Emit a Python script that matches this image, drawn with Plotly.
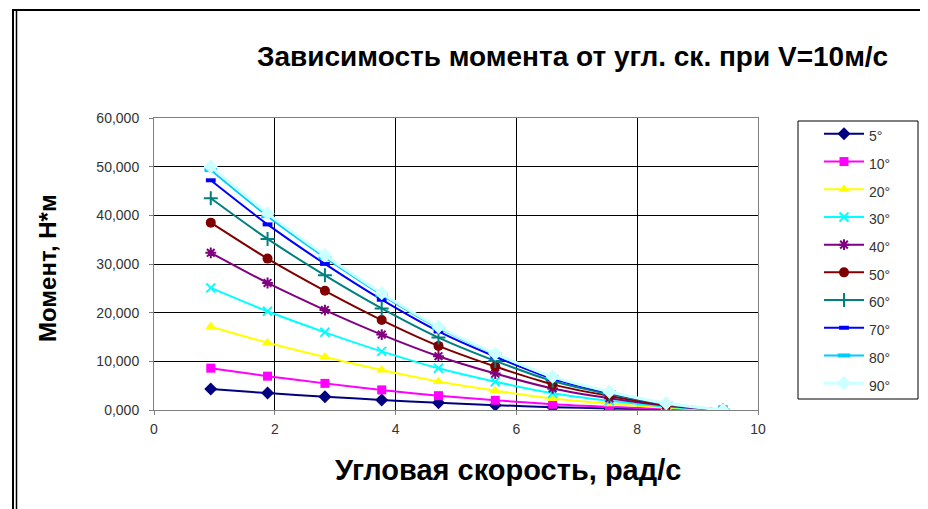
import plotly.graph_objects as go

# angular speed, rad/s
omega = [0.94, 1.88, 2.83, 3.77, 4.71, 5.65, 6.60, 7.54, 8.48, 9.42]

# torque, N*m, one list per blade angle
m_5 = [4.30, 3.47, 2.73, 2.06, 1.47, 1.00, 0.59, 0.32, 0.12, 0.0]
m_10 = [8.60, 6.95, 5.47, 4.13, 2.94, 2.00, 1.18, 0.65, 0.24, 0.0]
m_20 = [17.10, 13.82, 10.88, 8.21, 5.85, 3.97, 2.34, 1.28, 0.47, 0.0]
m_30 = [25.10, 20.28, 15.96, 12.05, 8.58, 5.82, 3.44, 1.88, 0.69, 0.0]
m_40 = [32.30, 26.10, 20.54, 15.50, 11.05, 7.49, 4.43, 2.42, 0.89, 0.0]
m_50 = [38.50, 31.11, 24.49, 18.48, 13.17, 8.93, 5.27, 2.89, 1.06, 0.0]
m_60 = [43.50, 35.15, 27.67, 20.88, 14.88, 10.09, 5.96, 3.26, 1.20, 0.0]
m_70 = [47.20, 38.14, 30.02, 22.66, 16.14, 10.95, 6.47, 3.54, 1.30, 0.0]
m_80 = [49.30, 39.83, 31.35, 23.66, 16.86, 11.44, 6.75, 3.70, 1.36, 0.0]
m_90 = [50.00, 40.40, 31.80, 24.00, 17.10, 11.60, 6.85, 3.76, 1.38, 0.0]

series_names = ["5°", "10°", "20°", "30°", "40°", "50°", "60°", "70°", "80°", "90°"]
series_values = [m_5, m_10, m_20, m_30, m_40, m_50, m_60, m_70, m_80, m_90]

x_ticks = [0, 2, 4, 6, 8, 10]
y_ticks = [0, 10, 20, 30, 40, 50, 60]

title_text = "Зависимость момента от угл. ск. при V=10м/с"
x_title = "Угловая скорость, рад/с"
y_title = "Момент, Н*м"

colors = ["#000080", "#FF00FF", "#FFFF00", "#00FFFF", "#800080",
          "#800000", "#008080", "#0000FF", "#00CCFF", "#CCFFFF"]
symbols = ["diamond", "square", "triangle-up", "x-thin-open", "asterisk-open",
           "circle", "cross-thin-open", "line-ew-open", "line-ew-open", "diamond"]
msizes = [10, 9, 10, 9, 9, 10, 10, 7, 9, 11]
mline = [0, 0, 0, 2, 2, 0, 2, 4, 4, 0]
lwidth = [2, 2, 2, 2, 2, 2, 2, 2, 2, 3]

# page (window) pixel geometry; the html body adds an 8px margin
OFF = 8
PW, PH = 928, 509
L, R, T, B = 154, 758, 118, 410


def px(x):
    return (x - L) / (R - L)


def py(y):
    return (B - y) / (B - T)


FONT = "Liberation Sans, Arial, sans-serif"

fig = go.Figure()
for name, vals, c, s, ms, ml, lw in zip(series_names, series_values, colors,
                                         symbols, msizes, mline, lwidth):
    fig.add_trace(go.Scatter(
        x=omega, y=vals, mode="lines+markers",
        name='<span style="font-size:14px">' + name + '</span>',
        line=dict(color=c, width=lw, shape="spline", smoothing=0.8),
        marker=dict(symbol=s, size=ms, color=c,
                    line=dict(color=c, width=ml)),
    ))

axis_common = dict(
    showline=True, linecolor="#808080", linewidth=1, mirror=True,
    showgrid=True, gridcolor="#000000", gridwidth=1, zeroline=False,
    ticks="outside", ticklen=4, tickcolor="#808080",
    tickfont=dict(family=FONT, size=14, color="#333333"),
)

fig.update_layout(
    width=PW - OFF, height=PH - OFF,
    margin=dict(l=L - OFF, r=PW - R, t=T - OFF, b=PH - B, pad=0),
    paper_bgcolor="white", plot_bgcolor="white",
    separators=", ",
    showlegend=True,
    legend=dict(
        x=px(819), y=py(115), xanchor="left", yanchor="top",
        borderwidth=0, bgcolor="rgba(0,0,0,0)",
        font=dict(family=FONT, size=19, color="#333333"),
        itemwidth=40, tracegroupgap=0, maxheight=450,
    ),
    xaxis=dict(range=[0, 10], tickvals=x_ticks, ticklabelstandoff=2, **axis_common),
    yaxis=dict(range=[0, 60], tickvals=y_ticks, tickformat=".3f",
               ticklabelstandoff=7, **axis_common),
)

annotations = [
    dict(text="<b>" + title_text + "</b>", x=px(572), y=py(57),
         font=dict(family=FONT, size=28, color="#000000")),
    dict(text="<b>" + x_title + "</b>", x=px(508), y=py(470),
         font=dict(family=FONT, size=29, color="#000000")),
    dict(text="<b>" + y_title + "</b>", x=px(47), y=py(268), textangle=-90,
         font=dict(family=FONT, size=24, color="#000000")),
]
for a in annotations:
    a.update(xref="paper", yref="paper", showarrow=False,
             xanchor="center", yanchor="middle")
fig.update_layout(annotations=annotations)


def seg(x0, y0, x1, y1, w=2):
    return dict(type="line", x0=px(x0), x1=px(x1), y0=py(y0), y1=py(y1),
                xref="paper", yref="paper", line=dict(color="black", width=w))


shapes = [
    # frame of the embedded chart
    seg(12, 10, 928, 10, 2),
    seg(13, 10, 13, 509, 2),
    seg(16.5, 10, 16.5, 509, 1.5),
    # legend box
    dict(type="rect", x0=px(798), x1=px(918), y0=py(121), y1=py(399),
         xref="paper", yref="paper", line=dict(color="#000000", width=1),
         layer="below", fillcolor="white"),
]
fig.update_layout(shapes=shapes)

fig.write_html("out.html")
